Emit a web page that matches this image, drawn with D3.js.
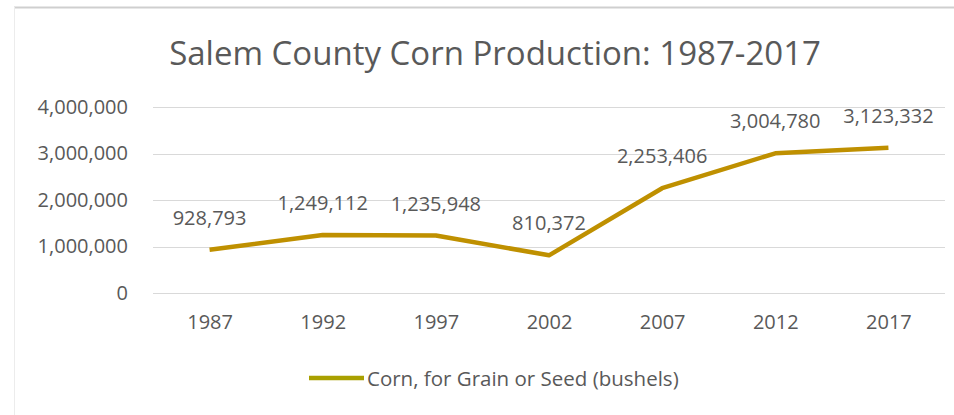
<!DOCTYPE html>
<html>
<head>
<meta charset="utf-8" />
<title>Salem County Corn Production</title>
<script src="https://cdn.jsdelivr.net/npm/d3@7"></script>
<style>
  body { margin: 0; background: #fff; }
  svg text { font-family: "Open Sans", sans-serif; fill: #595959; }
</style>
</head>
<body>
<svg id="chart" width="954" height="415"></svg>
<script>
var years = ["1987", "1992", "1997", "2002", "2007", "2012", "2017"];
var bushels = [928793, 1249112, 1235948, 810372, 2253406, 3004780, 3123332];
var yTicks = [0, 1000000, 2000000, 3000000, 4000000];
var seriesName = "Corn, for Grain or Seed (bushels)";
var title = "Salem County Corn Production: 1987-2017";

var lineColor = "#bf9000";
var svg = d3.select("#chart");

// frame edge of the pasted chart
svg.append("line").attr("x1", 14).attr("x2", 954).attr("y1", 7.5).attr("y2", 7.5)
  .attr("stroke", "#cfcfcf").attr("stroke-width", 2);
svg.append("line").attr("x1", 14.5).attr("x2", 14.5).attr("y1", 7).attr("y2", 415)
  .attr("stroke", "#ececec").attr("stroke-width", 1);

var x = d3.scalePoint().domain(years).range([153, 945]).padding(0.5);
var y = d3.scaleLinear().domain([0, 4000000]).range([293, 107]);
var fmt = d3.format(",");

svg.append("text")
  .attr("x", 495).attr("y", 65)
  .attr("text-anchor", "middle")
  .style("font-size", "33px")
  .text(title);

// gridlines
svg.append("g").selectAll("line").data(yTicks).enter().append("line")
  .attr("x1", 153).attr("x2", 945)
  .attr("y1", function (d) { return Math.round(y(d)) + 0.5; })
  .attr("y2", function (d) { return Math.round(y(d)) + 0.5; })
  .attr("stroke", "#d9d9d9").attr("stroke-width", 1);

// y axis labels
var yAxis = svg.append("g").attr("transform", "translate(136,0)")
  .call(d3.axisLeft(y).tickValues(yTicks).tickFormat(fmt).tickSize(0).tickPadding(8));
yAxis.select(".domain").remove();
yAxis.selectAll("text").style("font-size", "20px").attr("fill", "#595959");

// x axis labels
var xAxis = svg.append("g").attr("transform", "translate(0,311)")
  .call(d3.axisBottom(x).tickSize(0).tickPadding(4));
xAxis.select(".domain").remove();
xAxis.selectAll("text").style("font-size", "20px").attr("fill", "#595959");

// line
var line = d3.line()
  .x(function (d, i) { return x(years[i]); })
  .y(function (d) { return y(d); });
svg.append("path").datum(bushels)
  .attr("d", line)
  .attr("fill", "none")
  .attr("stroke", lineColor)
  .attr("stroke-width", 4.5)
  .attr("stroke-linejoin", "round");

// data labels
svg.append("g").selectAll("text").data(bushels).enter().append("text")
  .attr("x", function (d, i) { return x(years[i]); })
  .attr("y", function (d) { return y(d) - 25; })
  .attr("text-anchor", "middle")
  .style("font-size", "20px")
  .text(fmt);

// legend
svg.append("line").attr("x1", 309).attr("x2", 364).attr("y1", 378).attr("y2", 378)
  .attr("stroke", "#a9a000").attr("stroke-width", 4.5);
svg.append("text").attr("x", 367).attr("y", 386)
  .style("font-size", "20.5px")
  .text(seriesName);
</script>
</body>
</html>
